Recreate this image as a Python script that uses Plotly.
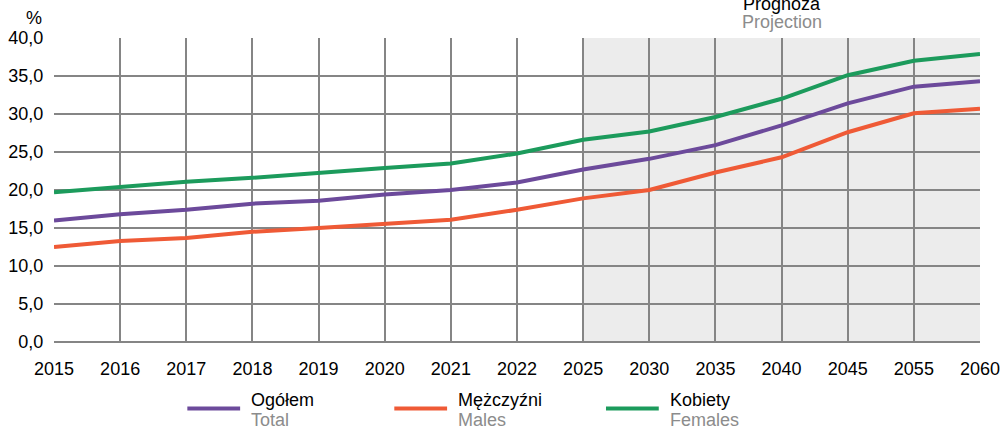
import plotly.graph_objects as go

# data
years = ["2015", "2016", "2017", "2018", "2019", "2020", "2021", "2022",
         "2025", "2030", "2035", "2040", "2045", "2055", "2060"]
total = [16.0, 16.8, 17.4, 18.2, 18.6, 19.4, 20.0, 21.0, 22.7, 24.1, 25.9, 28.5, 31.4, 33.6, 34.3]
males = [12.5, 13.3, 13.7, 14.5, 15.0, 15.6, 16.1, 17.4, 18.9, 20.0, 22.3, 24.3, 27.6, 30.1, 30.7]
females = [19.7, 20.4, 21.1, 21.6, 22.3, 22.9, 23.5, 24.8, 26.6, 27.7, 29.6, 32.0, 35.1, 37.0, 37.9]
projection_start = "2025"

series = [
    ("Ogółem", "Total", total, "#6c4a9b"),
    ("Mężczyźni", "Males", males, "#ef5a36"),
    ("Kobiety", "Females", females, "#1c9b5c"),
]

FONT = "Liberation Sans, Arial, sans-serif"
FS = 18
GRID = "#858585"
SUB = "#8c8c8c"

fig = go.Figure()

# projection band (grey background)
i0 = years.index(projection_start)
i1 = len(years) - 1
fig.add_shape(type="rect", xref="x", yref="y", x0=i0, x1=i1, y0=0, y1=40,
              fillcolor="#ececec", line_width=0, layer="below")

for pl, en, vals, col in series:
    fig.add_trace(go.Scatter(x=years, y=vals, mode="lines", name=pl,
                             line=dict(color=col, width=4), showlegend=False))

# "Prognoza / Projection" header over the band
fig.add_annotation(x=(i0 + i1) / 2, xref="x", y=1.112, yref="paper", yanchor="middle",
                   text="Prognoza", showarrow=False, font=dict(size=FS, color="black"))
fig.add_annotation(x=(i0 + i1) / 2, xref="x", y=1.053, yref="paper", yanchor="middle",
                   text="Projection", showarrow=False, font=dict(size=FS, color=SUB))

# % unit label
fig.add_annotation(x=-0.032, xref="paper", y=1.066, yref="paper", yanchor="middle",
                   text="%", showarrow=False, font=dict(size=FS, color="black"))

# custom legend under the axis
leg_x = [0.144, 0.3675, 0.5961]
for (pl, en, vals, col), lx in zip(series, leg_x):
    fig.add_shape(type="line", xref="paper", yref="paper", x0=lx, x1=lx + 0.057,
                  y0=-0.2185, y1=-0.2185, line=dict(color=col, width=4))
    fig.add_annotation(x=lx + 0.067, xref="paper", y=-0.1908, yref="paper",
                       xanchor="left", yanchor="middle", showarrow=False,
                       text=pl, font=dict(size=FS, color="black"))
    fig.add_annotation(x=lx + 0.067, xref="paper", y=-0.2566, yref="paper",
                       xanchor="left", yanchor="middle", showarrow=False,
                       text=en, font=dict(size=FS, color=SUB))

fig.update_layout(
    width=1003, height=428,
    margin=dict(l=54, r=23, t=38, b=86),
    paper_bgcolor="white", plot_bgcolor="white",
    font=dict(family=FONT, size=FS, color="black"),
    separators=",.",
)
fig.update_xaxes(type="category", range=[0, len(years) - 1], automargin=False,
                 showgrid=True, gridcolor=GRID, gridwidth=1.5,
                 showline=False, ticks="outside", ticklen=10, tickcolor="rgba(0,0,0,0)",
                 tickfont=dict(size=FS))
fig.update_yaxes(range=[0, 40], dtick=5, tickformat=".1f", automargin=False,
                 showgrid=True, gridcolor=GRID, gridwidth=1.5,
                 zeroline=True, zerolinecolor=GRID, zerolinewidth=1.5,
                 ticks="outside", ticklen=6, tickcolor="rgba(0,0,0,0)",
                 tickfont=dict(size=FS))

# drop the default page margin so the figure sits at the window's corner
fig.write_html("out.html", config={"displayModeBar": False},
               post_script="document.body.style.margin='0';")
